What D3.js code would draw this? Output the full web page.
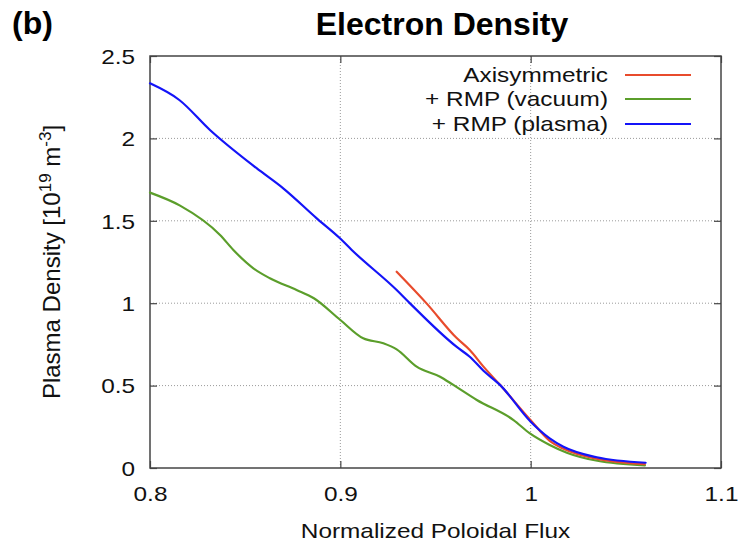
<!DOCTYPE html>
<html>
<head>
<meta charset="utf-8">
<script src="https://cdn.jsdelivr.net/npm/d3@7"></script>
<style>
  body { margin: 0; background: #fff; }
  svg { display: block; font-family: "Liberation Sans", Arial, Helvetica, sans-serif; }
</style>
</head>
<body>
<svg id="chart" width="746" height="543"></svg>
<script>
// Normalized poloidal flux vs. electron density (10^19 m^-3)
const seriesNames = ["Axisymmetric", "+ RMP (vacuum)", "+ RMP (plasma)"];
const seriesColors = ["#e84b2c", "#5b9e2b", "#1414f8"];

const axisymFlux = [0.9296, 0.9453, 0.961, 0.968, 0.9752, 0.984, 1.0, 1.01, 1.017, 1.035, 1.06];
const axisymDens = [1.191, 0.999, 0.79, 0.716, 0.615, 0.503, 0.29, 0.165, 0.118, 0.055, 0.024];

const vacuumFlux = [0.8, 0.8158, 0.8368, 0.8438, 0.8543, 0.863, 0.877, 0.8861, 0.9, 0.912, 0.9226, 0.9296,
                    0.9401, 0.9524, 0.9594, 0.9717, 0.991, 0.9996, 1.01, 1.019, 1.035, 1.06];
const vacuumDens = [1.671, 1.592, 1.414, 1.323, 1.212, 1.151, 1.08, 1.03, 0.898, 0.787, 0.757, 0.72,
                    0.615, 0.554, 0.504, 0.413, 0.291, 0.21, 0.14, 0.093, 0.044, 0.016];

const plasmaFlux = [0.8, 0.8154, 0.8315, 0.856, 0.87, 0.8876, 0.8998, 0.906, 0.9296, 0.9366, 0.961, 0.968,
                    0.9752, 0.984, 1.0, 1.01, 1.0172, 1.0347, 1.0604];
const plasmaDens = [2.334, 2.233, 2.051, 1.819, 1.697, 1.515, 1.394, 1.323, 1.08, 0.999, 0.736, 0.675,
                    0.59, 0.503, 0.281, 0.18, 0.129, 0.065, 0.032];

const xTicks = [0.8, 0.9, 1.0, 1.1];
const xTickLabels = ["0.8", "0.9", "1", "1.1"];
const yTicks = [0, 0.5, 1, 1.5, 2, 2.5];
const yTickLabels = ["0", "0.5", "1", "1.5", "2", "2.5"];

const series = [
  { name: seriesNames[0], color: seriesColors[0], xs: axisymFlux, ys: axisymDens },
  { name: seriesNames[1], color: seriesColors[1], xs: vacuumFlux, ys: vacuumDens },
  { name: seriesNames[2], color: seriesColors[2], xs: plasmaFlux, ys: plasmaDens }
];

const svg = d3.select("#chart");
const L = 150, R = 721, T = 56, B = 468;
const x = d3.scaleLinear().domain([0.8, 1.1]).range([L, R]);
const y = d3.scaleLinear().domain([0, 2.5]).range([B, T]);
const SX = 1.16; // horizontal stretch of the label lettering

// dotted grid
const grid = svg.append("g").attr("stroke", "#9a9a9a").attr("stroke-width", 1).attr("stroke-dasharray", "1,2");
xTicks.filter(d => d > 0.8 && d < 1.1).forEach(d => {
  grid.append("line").attr("x1", x(d)).attr("x2", x(d)).attr("y1", T).attr("y2", B);
});
yTicks.filter(d => d > 0 && d < 2.5).forEach(d => {
  grid.append("line").attr("x1", L).attr("x2", R).attr("y1", y(d)).attr("y2", y(d));
});

// axes with inward ticks on all four sides
const tickCol = "#444";
const fmtX = (d, i) => xTickLabels[i];
const fmtY = (d, i) => yTickLabels[i];

const gB = svg.append("g").attr("transform", `translate(0,${B})`)
  .call(d3.axisBottom(x).tickValues(xTicks).tickFormat(fmtX).tickSizeInner(-7).tickSizeOuter(0));
gB.selectAll("text").attr("y", 0).attr("dy", 0)
  .attr("transform", `translate(0,33) scale(${SX},1)`);

const gL = svg.append("g").attr("transform", `translate(${L},0)`)
  .call(d3.axisLeft(y).tickValues(yTicks).tickFormat(fmtY).tickSizeInner(-7).tickSizeOuter(0));
gL.selectAll("text").attr("x", 0).attr("dy", "0.35em")
  .attr("transform", `translate(-15,0) scale(${SX},1)`);

svg.append("g").attr("transform", `translate(0,${T})`)
  .call(d3.axisTop(x).tickValues(xTicks).tickFormat("").tickSizeInner(-7).tickSizeOuter(0));
svg.append("g").attr("transform", `translate(${R},0)`)
  .call(d3.axisRight(y).tickValues(yTicks).tickFormat("").tickSizeInner(-7).tickSizeOuter(0));

svg.selectAll(".domain").remove();
svg.selectAll(".tick line").attr("stroke", tickCol).attr("stroke-width", 1.2);
svg.selectAll(".tick text").attr("font-size", 21).attr("fill", "#111")
  .attr("font-family", "'Liberation Sans', Arial, sans-serif");

// frame
svg.append("rect").attr("x", L).attr("y", T).attr("width", R - L).attr("height", B - T)
  .attr("fill", "none").attr("stroke", tickCol).attr("stroke-width", 1.5);

// curves
const line = d3.line().x(d => x(d[0])).y(d => y(d[1])).curve(d3.curveMonotoneX);
// draw order: vacuum, axisymmetric, plasma on top
[1, 0, 2].forEach(k => {
  const s = series[k];
  svg.append("path")
    .datum(s.xs.map((v, i) => [v, s.ys[i]]))
    .attr("fill", "none").attr("stroke", s.color).attr("stroke-width", 2.2)
    .attr("stroke-linejoin", "round").attr("stroke-linecap", "round")
    .attr("d", line);
});

// legend
const legY = [75, 99, 124];
series.forEach((s, i) => {
  svg.append("text")
    .attr("transform", `translate(608,${legY[i] + 7}) scale(${SX},1)`)
    .attr("text-anchor", "end").attr("font-size", 21).attr("fill", "#111")
    .text(s.name);
  svg.append("line").attr("x1", 625).attr("x2", 691).attr("y1", legY[i]).attr("y2", legY[i])
    .attr("stroke", s.color).attr("stroke-width", 2.2);
});

// title and panel tag
svg.append("text").attr("x", 442).attr("y", 35).attr("text-anchor", "middle")
  .attr("font-size", 32).attr("font-weight", "bold").attr("fill", "#000").text("Electron Density");
svg.append("text").attr("x", 12).attr("y", 34)
  .attr("font-size", 32).attr("font-weight", "bold").attr("fill", "#000").text("(b)");

// axis titles
svg.append("text")
  .attr("transform", `translate(${(L + R) / 2},538) scale(${SX},1)`)
  .attr("text-anchor", "middle").attr("font-size", 21).attr("fill", "#111")
  .text("Normalized Poloidal Flux");

const yl = svg.append("text")
  .attr("transform", `translate(60,${(T + B) / 2}) rotate(-90)`)
  .attr("text-anchor", "middle").attr("font-size", 24).attr("fill", "#111");
yl.append("tspan").text("Plasma Density [10");
yl.append("tspan").attr("dy", -9).attr("font-size", 17).text("19");
yl.append("tspan").attr("dy", 9).text(" m");
yl.append("tspan").attr("dy", -9).attr("font-size", 17).text("-3");
yl.append("tspan").attr("dy", 9).text("]");
</script>
</body>
</html>
